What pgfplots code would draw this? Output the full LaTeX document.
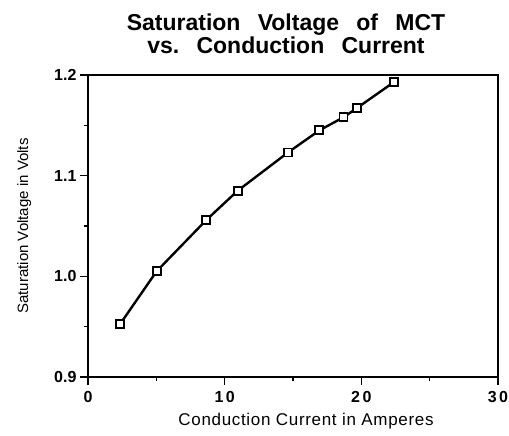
\documentclass[border=0pt]{standalone}
\usepackage{pgfplots}
\pgfplotsset{compat=1.18}
\usepackage{fontspec}
\setmainfont{Liberation Sans}
\newcommand{\wsp}{\hspace{0.75em}}
\begin{document}
\begin{tikzpicture}[x=1pt,y=1pt]
\useasboundingbox (0,0) rectangle (509,436);
\begin{axis}[
  at={(88pt,59pt)}, anchor=south west,
  scale only axis, width=410pt, height=302pt,
  xmin=0, xmax=30, ymin=0.9, ymax=1.2,
  xtick={0,10,20,30}, ytick={0.9,1.0,1.1,1.2},
  xticklabels={0,1\kern2.5pt0,2\kern2.5pt0,3\kern2.5pt0},
  yticklabels={0.9,1.0,1.1,1.2},
  minor xtick={5,15,25}, minor ytick={0.95,1.05,1.15},
  xtick pos=left, ytick pos=left,
  tick align=outside,
  major tick length=8pt, minor tick length=4pt,
  every tick/.style={black, line width=1.5pt},
  axis line style={line width=1.8pt},
  ticklabel style={font=\bfseries\fontsize{16}{18}\selectfont},
  xticklabel style={yshift=-3pt},
  xlabel={Conduction\ Current\ in\ Amperes},
  ylabel={Saturation\ Voltage\ in\ Volts},
  xlabel style={font=\fontsize{17}{19}\selectfont\addfontfeature{LetterSpace=4}, yshift=-3pt, xshift=13pt},
  ylabel style={font=\fontsize{15}{17}\selectfont, yshift=16pt},
  title={Saturation\wsp Voltage\wsp of\wsp MCT\\vs.\wsp Conduction\wsp Current},
  title style={font=\bfseries\fontsize{23}{23}\selectfont, align=center, yshift=12pt, xshift=-7pt},
  clip=false,
]
\addplot[black, line width=2.4pt, mark=square*, mark size=4pt, mark options={line width=1.8pt, fill=white}]
  coordinates {(2.37,0.953) (5.02,1.005) (8.66,1.056) (10.95,1.085) (14.63,1.123) (16.93,1.145) (18.7,1.158) (19.66,1.167) (22.39,1.193)};
\end{axis}
\end{tikzpicture}
\end{document}
